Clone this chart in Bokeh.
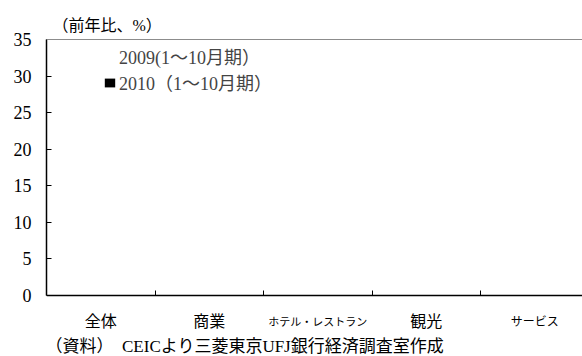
from bokeh.plotting import figure
from bokeh.models import (ColumnDataSource, FixedTicker, Legend, LegendItem,
                          LabelSet, Label, Span, LinearAxis)
from bokeh.transform import dodge
from bokeh.embed import file_html
from bokeh.resources import INLINE
from bokeh.core.properties import value

# ---- data -------------------------------------------------------------
categories = ["全体", "商業", "ホテル・レストラン", "観光", "サービス"]
series_2009 = [0, 0, 0, 0, 0]
series_2010 = [0, 0, 0, 0, 0]
series_names = ["2009(1～10月期）", "2010（1～10月期）"]
y_ticks = [0, 5, 10, 15, 20, 25, 30, 35]
y_unit_label = "（前年比、%）"
source_note = "（資料）　CEICより三菱東京UFJ銀行経済調査室作成"

# ---- layout / styles --------------------------------------------------
label_sizes = ["16px", "16px", "11px", "16px", "12px"]
FONT = "'Liberation Serif', 'Noto Sans CJK JP'"
W, H = 582, 356
AX_TOP_PX, AX_BOTTOM_PX = 39, 295          # pixel rows of 35 and 0
px_per = (AX_BOTTOM_PX - AX_TOP_PX) / (y_ticks[-1] - y_ticks[0])
y_start = y_ticks[0] - (H - AX_BOTTOM_PX) / px_per
y_end = y_ticks[-1] + AX_TOP_PX / px_per

n = len(categories)
centers = [i + 0.5 for i in range(n)]
src = ColumnDataSource(dict(x=centers, cat=categories, size=label_sizes,
                            v09=series_2009, v10=series_2010))

p = figure(width=W, height=H, output_backend="svg", toolbar_location=None,
           x_range=(0, n - 0.06), y_range=(y_start, y_end),
           x_axis_location=None,
           min_border_left=46, min_border_right=0, min_border_top=0,
           min_border_bottom=0, title=None)
p.outline_line_color = None
p.xgrid.visible = False
p.ygrid.visible = False
p.background_fill_color = "white"
p.border_fill_color = "white"

r09 = p.vbar(x=dodge("x", -0.18, range=p.x_range), top="v09", width=0.3,
             source=src, fill_color="white", line_color=None)
r10 = p.vbar(x=dodge("x", 0.18, range=p.x_range), top="v10", width=0.3,
             source=src, fill_color="black", line_color=None)

# y axis
ya = p.yaxis[0]
ya.ticker = FixedTicker(ticks=y_ticks)
ya.bounds = (y_ticks[0], y_ticks[-1])
ya.major_tick_in = 5
ya.major_tick_out = 0
ya.minor_tick_line_color = None
ya.major_label_standoff = 15
ya.major_label_text_font = FONT
ya.major_label_text_font_size = "18px"
ya.major_label_text_color = "black"
ya.axis_line_color = "black"
ya.axis_line_width = 1.5
ya.major_tick_line_color = "black"

# x axis at y = 0: ticks at category boundaries
xa = LinearAxis(fixed_location=y_ticks[0],
                ticker=FixedTicker(ticks=[], minor_ticks=list(range(1, n))))
xa.major_tick_line_color = None
xa.minor_tick_in = 5
xa.minor_tick_out = 0
xa.minor_tick_line_color = "black"
xa.major_label_text_font_size = "0px"
xa.axis_line_color = "black"
xa.axis_line_width = 1.5
p.add_layout(xa, "below")

# top frame line
p.add_layout(Span(location=y_ticks[-1], dimension="width",
                  line_color="#8c8c8c", line_width=1.2))

# category labels
p.add_layout(LabelSet(x="x", y=y_ticks[0] - 26 / px_per, text="cat", source=src,
                      text_font=value(FONT), text_font_size="size",
                      text_align="center", text_baseline="middle",
                      text_color="black"))

p.add_layout(Label(x=6, y=y_ticks[-1] + 14 / px_per, x_units="screen",
                   text=y_unit_label, text_font=FONT, text_font_size="16px",
                   text_baseline="middle", text_color="black"))
p.add_layout(Label(x=-1, y=y_ticks[0] - 51 / px_per, x_units="screen",
                   text=source_note, text_font=FONT, text_font_size="17px",
                   text_baseline="middle", text_color="black"))

legend = Legend(items=[LegendItem(label=series_names[0], renderers=[r09]),
                       LegendItem(label=series_names[1], renderers=[r10])],
                location=(57, 261), orientation="vertical",
                glyph_width=13, glyph_height=11, label_standoff=3,
                spacing=0, padding=0, margin=0,
                border_line_color=None, background_fill_alpha=0,
                label_text_font=FONT, label_text_font_size="18px",
                label_height=20)
p.add_layout(legend)

open("out.html", "w").write(file_html(p, INLINE))
